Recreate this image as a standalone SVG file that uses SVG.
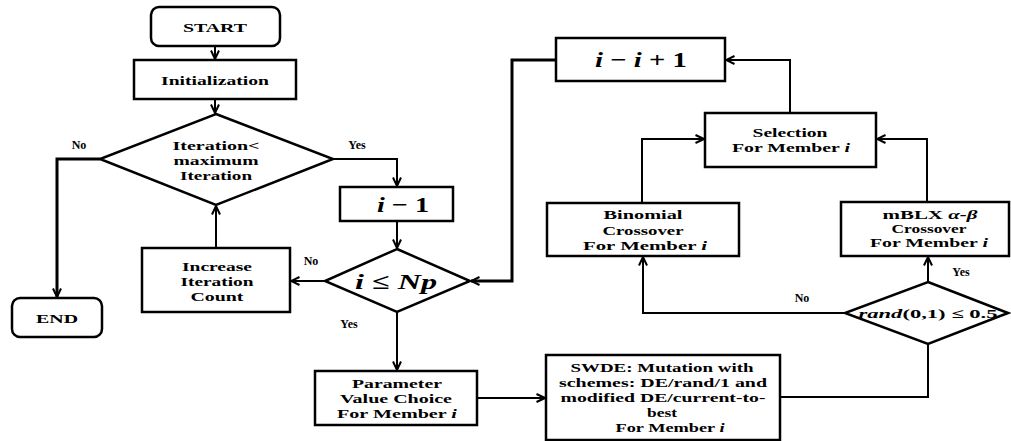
<svg xmlns="http://www.w3.org/2000/svg" width="1011" height="441" viewBox="0 0 1011 441">
<style>
.b{fill:#fff;stroke:#000;stroke-width:2.5}
.c{fill:none;stroke:#000;stroke-width:2}
.t{stroke-width:3}
text{font-family:"Liberation Serif",serif;font-weight:bold;font-size:13px;fill:#000;text-anchor:middle}
.m{font-size:22px}
.l{font-size:12px}
.i{font-style:italic}
</style>
<defs>
<marker id="a" viewBox="0 0 10 10" refX="9.5" refY="5" markerWidth="10" markerHeight="10" markerUnits="userSpaceOnUse" orient="auto">
<path d="M1,1 L9.5,5 L1,9" fill="none" stroke="#000" stroke-width="2"/>
</marker>
</defs>
<rect width="1011" height="441" fill="#fff"/>
<g id="connectors">
<path class="c" d="M215,46 V59" marker-end="url(#a)"/>
<path class="c" d="M215,99 V113" marker-end="url(#a)"/>
<path class="c t" d="M100,159 H57 V297" marker-end="url(#a)"/>
<path class="c" d="M333,159 H397 V186" marker-end="url(#a)"/>
<path class="c" d="M397,221 V248" marker-end="url(#a)"/>
<path class="c" d="M325,281 H291" marker-end="url(#a)"/>
<path class="c" d="M216,248 V206" marker-end="url(#a)"/>
<path class="c" d="M397,312 V370" marker-end="url(#a)"/>
<path class="c" d="M477,398 H545" marker-end="url(#a)"/>
<path class="c" d="M780,397 H928 V344"/>
<path class="c" d="M845,313 H643 V257" marker-end="url(#a)"/>
<path class="c" d="M928,282 V257" marker-end="url(#a)"/>
<path class="c" d="M642,203 V139 H704" marker-end="url(#a)"/>
<path class="c" d="M927,202 V139 H877" marker-end="url(#a)"/>
<path class="c" d="M790,113 V60 H726" marker-end="url(#a)"/>
<path class="c t" d="M556,60 H512 V281 H471" marker-end="url(#a)"/>
</g>
<g id="start">
<rect class="b" x="151" y="7" width="129" height="39" rx="8"/>
<text x="215" y="32" textLength="64" lengthAdjust="spacingAndGlyphs">START</text>
</g>
<g id="init">
<rect class="b" x="134" y="60" width="162" height="39"/>
<text x="215" y="85" textLength="108" lengthAdjust="spacingAndGlyphs">Initialization</text>
</g>
<g id="iter-check">
<polygon class="b" points="216,114 333,159 216,205 100,159"/>
<text x="216" y="150" textLength="87" lengthAdjust="spacingAndGlyphs">Iteration&lt;</text>
<text x="216" y="165" textLength="85" lengthAdjust="spacingAndGlyphs">maximum</text>
<text x="216" y="180" textLength="72" lengthAdjust="spacingAndGlyphs">Iteration</text>
</g>
<g id="end">
<rect class="b" x="12" y="298" width="90" height="39" rx="8"/>
<text x="57" y="323" textLength="42" lengthAdjust="spacingAndGlyphs">END</text>
</g>
<g id="increase">
<rect class="b" x="142" y="248" width="148" height="64"/>
<text x="217" y="271" textLength="70" lengthAdjust="spacingAndGlyphs">Increase</text>
<text x="217" y="286" textLength="73" lengthAdjust="spacingAndGlyphs">Iteration</text>
<text x="217" y="301" textLength="53" lengthAdjust="spacingAndGlyphs">Count</text>
</g>
<g id="i-init">
<rect class="b" x="340" y="187" width="113" height="34"/>
<text class="m" x="403" y="212" textLength="52" lengthAdjust="spacingAndGlyphs"><tspan class="i">i</tspan> − 1</text>
</g>
<g id="np-check">
<polygon class="b" points="397,249 470,281 397,312 325,281"/>
<text class="m" x="396" y="289" font-size="24" textLength="82" lengthAdjust="spacingAndGlyphs"><tspan class="i">i</tspan> ≤ <tspan class="i">Np</tspan></text>
</g>
<g id="param">
<rect class="b" x="315" y="371" width="162" height="54"/>
<text x="397" y="388" textLength="90" lengthAdjust="spacingAndGlyphs">Parameter</text>
<text x="396" y="403" textLength="112" lengthAdjust="spacingAndGlyphs">Value Choice</text>
<text x="397" y="418" textLength="120" lengthAdjust="spacingAndGlyphs">For Member <tspan class="i">i</tspan></text>
</g>
<g id="swde">
<rect class="b" x="546" y="355" width="234" height="85"/>
<text x="662" y="372" textLength="183" lengthAdjust="spacingAndGlyphs">SWDE: Mutation with</text>
<text x="663" y="387" textLength="208" lengthAdjust="spacingAndGlyphs">schemes: DE/rand/1 and</text>
<text x="663" y="402" textLength="205" lengthAdjust="spacingAndGlyphs">modified DE/current-to-</text>
<text x="662" y="417" textLength="30" lengthAdjust="spacingAndGlyphs">best</text>
<text x="670" y="432" textLength="109" lengthAdjust="spacingAndGlyphs">For Member <tspan class="i">i</tspan></text>
</g>
<g id="rand-check">
<polygon class="b" points="928,282 1008,313 928,344 845,313"/>
<text x="928" y="318" font-size="14" textLength="139" lengthAdjust="spacingAndGlyphs"><tspan class="i">rand</tspan>(0,1) ≤ 0.5</text>
</g>
<g id="binomial">
<rect class="b" x="547" y="203" width="192" height="53"/>
<text x="643" y="219" textLength="79" lengthAdjust="spacingAndGlyphs">Binomial</text>
<text x="643" y="235" textLength="81" lengthAdjust="spacingAndGlyphs">Crossover</text>
<text x="645" y="250" textLength="124" lengthAdjust="spacingAndGlyphs">For Member <tspan class="i">i</tspan></text>
</g>
<g id="mblx">
<rect class="b" x="841" y="202" width="168" height="54"/>
<text x="930" y="219" textLength="95" lengthAdjust="spacingAndGlyphs">mBLX <tspan class="i">α-β</tspan></text>
<text x="929" y="233" textLength="75" lengthAdjust="spacingAndGlyphs">Crossover</text>
<text x="929" y="247" textLength="118" lengthAdjust="spacingAndGlyphs">For Member <tspan class="i">i</tspan></text>
</g>
<g id="selection">
<rect class="b" x="705" y="113" width="171" height="54"/>
<text x="790" y="137" textLength="75" lengthAdjust="spacingAndGlyphs">Selection</text>
<text x="791" y="152" textLength="118" lengthAdjust="spacingAndGlyphs">For Member <tspan class="i">i</tspan></text>
</g>
<g id="i-inc">
<rect class="b" x="556" y="38" width="169" height="43"/>
<text class="m" x="641" y="67" textLength="92" lengthAdjust="spacingAndGlyphs"><tspan class="i">i</tspan> − <tspan class="i">i</tspan> + 1</text>
</g>
<g id="labels">
<text class="l" x="79" y="149">No</text>
<text class="l" x="357" y="149">Yes</text>
<text class="l" x="311" y="265">No</text>
<text class="l" x="349" y="328">Yes</text>
<text class="l" x="802" y="302">No</text>
<text class="l" x="961" y="276">Yes</text>
</g>
</svg>
